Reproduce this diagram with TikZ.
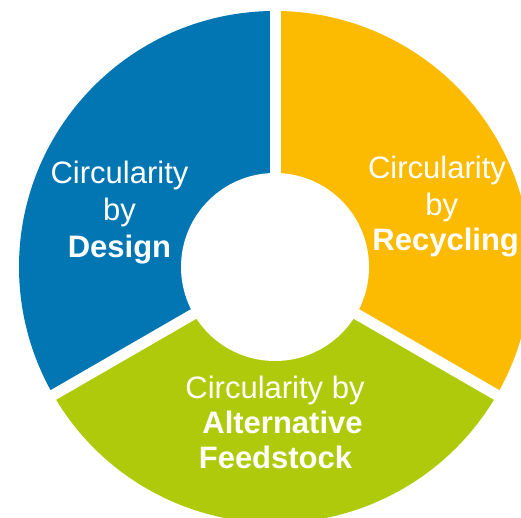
\documentclass[tikz,border=0pt]{standalone}
\usepackage{fontspec}
\setmainfont{Liberation Sans}
\definecolor{cblue}{RGB}{2,118,178}
\definecolor{cyellow}{RGB}{252,187,0}
\definecolor{cgreen}{RGB}{175,202,11}
\begin{document}
\begin{tikzpicture}[x=1pt,y=1pt,
  lbl/.style={text=white,anchor=base,inner sep=0pt,font=\fontsize{31}{37}\selectfont},
  blbl/.style={lbl,font=\fontsize{31}{37}\selectfont\bfseries},
  gapline/.style={white,line width=11pt}]
\useasboundingbox (0,0) rectangle (521,518);
\clip (0,0) rectangle (521,518);
\coordinate (C) at (275,251);
% sectors
\fill[cyellow] (C) -- ++(-30:256) arc[start angle=-30,end angle=90,radius=256] -- cycle;
\fill[cblue] (C) -- ++(90:256) arc[start angle=90,end angle=210,radius=256] -- cycle;
\fill[cgreen] (C) -- ++(210:256) arc[start angle=210,end angle=330,radius=256] -- cycle;
% gaps
\draw[gapline] (C) -- ++(90:270);
\draw[gapline] (C) -- ++(210:270);
\draw[gapline] (C) -- ++(330:270);
% hole
\fill[white] (C) circle (94);
% labels
\node[lbl] (d1) at (119.5,334) {Circularity};
\node[lbl] (d2) at (119.5,297.3) {by};
\node[blbl] (d3) at (119.5,260) {Design};
\node[lbl] (r1) at (437,339.7) {Circularity};
\node[lbl] (r2) at (441.7,302.3) {by};
\node[blbl] (r3) at (445.7,267) {Recycling};
\node[lbl] (a1) at (275,119.7) {Circularity by};
\node[blbl] (a2) at (282.5,84) {Alternative};
\node[blbl] (a3) at (275.5,49) {Feedstock};
\end{tikzpicture}
\end{document}
